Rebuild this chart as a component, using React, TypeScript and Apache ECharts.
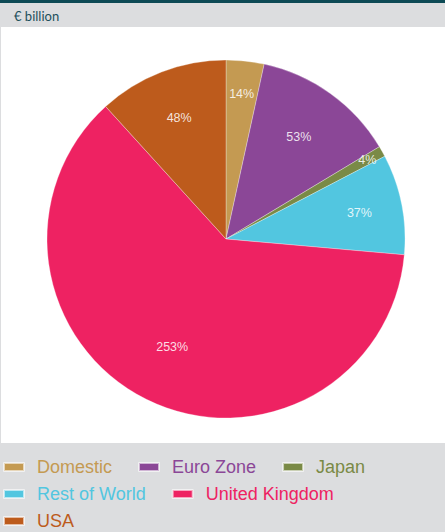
import React, { useEffect, useRef } from "react";
import * as echarts from "echarts";

const categories = ["Domestic", "Euro Zone", "Japan", "Rest of World", "United Kingdom", "USA"];
const values = [14, 53, 4, 37, 253, 48];
const colors = ["#c49a52", "#8b4797", "#7a8a46", "#52c6e0", "#ee2262", "#bd5b1c"];
const labelRadii = [143, 122, 159, 133, 118, 127];

export default function App() {
  const ref = useRef<HTMLDivElement>(null);
  useEffect(() => {
    document.body.style.margin = "0";
    const chart = echarts.init(ref.current!, undefined, { renderer: "svg" });
    const R = 179;
    const total = values.reduce((a, b) => a + b, 0);
    let acc = 0;
    const data = categories.map((name, i) => {
      const mid = ((acc + values[i] / 2) / total) * Math.PI * 2;
      acc += values[i];
      const extra = labelRadii[i] - R / 2;
      return {
        name,
        value: values[i],
        itemStyle: { color: colors[i] },
        label: { offset: [Math.sin(mid) * extra, -Math.cos(mid) * extra] },
      };
    });
    chart.setOption({
      animation: false,
      backgroundColor: "#dcdddf",
      graphic: [
        { type: "rect", shape: { x: 0, y: 0, width: 445, height: 3 }, style: { fill: "#0d4a55" }, z: -10 },
        { type: "rect", shape: { x: 1, y: 27, width: 444, height: 416 }, style: { fill: "#ffffff" }, z: -10 },
        {
          type: "text",
          x: 14,
          y: 9,
          style: { text: "€ billion", fill: "#1d4f5b", font: "13px Lato, 'Liberation Sans', sans-serif" },
        },
      ],
      legend: {
        left: 3,
        top: 458,
        width: 410,
        padding: 0,
        orient: "horizontal",
        itemWidth: 20,
        itemHeight: 8,
        itemGap: 9,
        icon: "rect",
        data: categories.map((name, i) => ({ name, textStyle: { color: colors[i] } })),
        textStyle: {
          fontSize: 18,
          lineHeight: 18,
          fontFamily: "'Liberation Sans', Arial, sans-serif",
          padding: [0, 17, 0, 8],
        },
      },
      series: [
        {
          type: "pie",
          center: [226, 239],
          radius: [0, R],
          startAngle: 90,
          clockwise: true,
          avoidLabelOverlap: false,
          itemStyle: { borderColor: "rgba(255,255,255,0.6)", borderWidth: 0.5 },
          label: {
            show: true,
            position: "inside",
            formatter: "{c}%",
            color: "rgba(255,255,255,0.85)",
            fontSize: 12.5,
            fontFamily: "'Liberation Sans', Arial, sans-serif",
          },
          labelLine: { show: false },
          data,
        },
      ],
    });
    return () => chart.dispose();
  }, []);
  return <div ref={ref} style={{ position: "fixed", left: 0, top: 0, width: 445, height: 532 }} />;
}
